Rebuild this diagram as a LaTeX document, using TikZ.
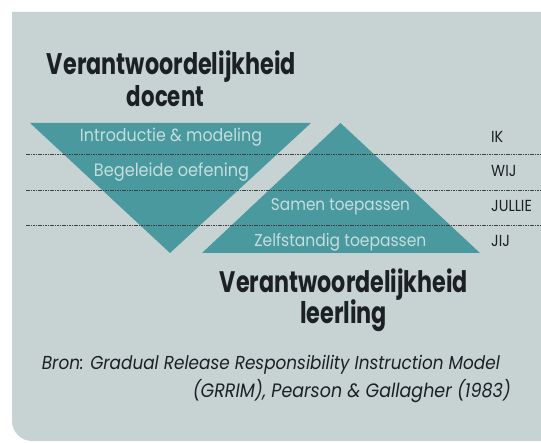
\documentclass[tikz,border=0pt]{standalone}
\usepackage{fontspec}
\usepackage{graphicx}
\setmainfont{Poppins}[FakeStretch=0.9]
\newfontfamily\headfont{Poppins}[FakeStretch=0.75]
\definecolor{cardgrey}{RGB}{199,211,211}
\definecolor{triteal}{RGB}{74,153,158}
\definecolor{tritext}{RGB}{196,222,222}
\definecolor{ink}{RGB}{28,32,36}
\newcommand{\fitw}[2]{\resizebox{#1pt}{!}{#2}}

\begin{document}
\begin{tikzpicture}[x=1pt,y=-1pt,
  every node/.style={inner sep=0pt},
  title/.style={anchor=base,text=ink,font=\headfont\bfseries},
  intri/.style={anchor=base,text=tritext},
  who/.style={anchor=base west,text=ink,font=\fontsize{16}{19}\selectfont},
  source/.style={text=ink,font=\itshape},
  row/.style={draw=black!75,line width=0.6pt,dash pattern=on 1.6pt off 0.8pt}]

  \useasboundingbox (0,0) rectangle (541,443);
  \fill[white] (0,0) rectangle (541,443);
  % card
  \fill[cardgrey] (12,12) -- (541,12) -- (541,441) -- (32,441)
    .. controls (21,441) and (12,432) .. (12,421) -- cycle;

  % triangles
  \fill[triteal] (30,123) -- (311,123) -- (170,253) -- cycle;
  \fill[triteal] (340.5,123) -- (480,253) -- (202,253) -- cycle;

  % rows
  \foreach \y in {154.5,190,225.5}
    \draw[row] (26,\y) -- (541,\y);

  \node[title] (docent1) at (171.5,75) {\fitw{249}{Verantwoordelijkheid}};
  \node[title] (docent2) at (165.5,107) {\fitw{77}{docent}};

  \node[intri] (intro) at (171,141.7) {\fitw{182}{Introductie \& modeling}};
  \node[intri] (begeleid) at (171.5,176.7) {\fitw{155}{Begeleide oefening}};
  \node[intri] (samen) at (340.5,210.7) {\fitw{139}{Samen toepassen}};
  \node[intri] (zelf) at (340.3,246.5) {\fitw{172}{Zelfstandig toepassen}};

  \node[who] (ik) at (491,142.3) {IK};
  \node[who] (wij) at (491,176.7) {WIJ};
  \node[who] (jullie) at (491,211.7) {JULLIE};
  \node[who] (jij) at (491,246.7) {JIJ};

  \node[title] (leerling1) at (344,292.3) {\fitw{248}{Verantwoordelijkheid}};
  \node[title] (leerling2) at (343.5,323.3) {\fitw{87}{leerling}};

  \node[source,anchor=base west] (bron1) at (41.7,370)
    {\fitw{458}{Bron: Gradual Release Responsibility Instruction Model}};
  \node[source,anchor=base east] (bron2) at (511,398)
    {\fitw{318}{(GRRIM), Pearson \& Gallagher (1983)}};

\end{tikzpicture}
\end{document}
